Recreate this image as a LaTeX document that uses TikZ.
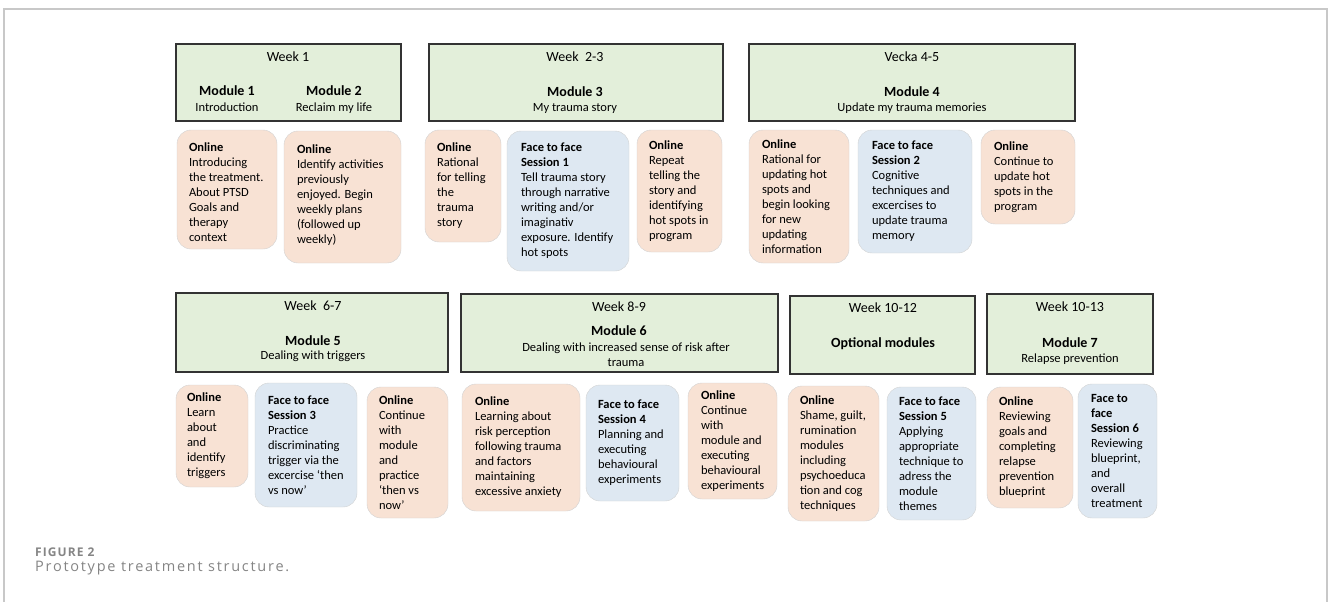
\documentclass[tikz,border=0pt]{standalone}
\usepackage{fontspec}
\setmainfont{Carlito}
\newfontfamily\capfont[LetterSpace=12]{Open Sans}
\newfontfamily\caplblfont[LetterSpace=9]{Open Sans}
\usetikzlibrary{positioning}

\definecolor{weekgreen}{HTML}{E3EFDA}
\definecolor{onlinepeach}{HTML}{F8E2D4}
\definecolor{faceblue}{HTML}{DEE8F2}
\definecolor{boxline}{HTML}{D2D2D2}
\definecolor{frameline}{HTML}{C8C8C8}
\definecolor{capgray}{HTML}{858585}

\tikzset{
  weekbox/.style={draw=black!80,line width=1.3pt,fill=weekgreen,inner sep=0pt},
  onlinebox/.style={draw=boxline,fill=onlinepeach,rounded corners=14pt,inner sep=0pt},
  facebox/.style={draw=boxline,fill=faceblue,rounded corners=14pt,inner sep=0pt},
  boxtext/.style={align=left,inner sep=0pt,font=\fontsize{12.5}{15}\selectfont},
  headtext/.style={inner sep=0pt,font=\fontsize{14}{16}\selectfont},
  modtext/.style={inner sep=0pt,font=\bfseries\fontsize{14}{16}\selectfont},
  subtext/.style={inner sep=0pt,align=center,font=\fontsize{12.5}{15}\selectfont}
}

\begin{document}
\begin{tikzpicture}[x=1pt,y=-1pt]
\useasboundingbox (0,0) rectangle (1328,602);
% frame
\draw[frameline,line width=1.2pt] (4,602) -- (4,9) -- (1327,9) -- (1327,602);

% top row: week headers
\node[weekbox,minimum width=225,minimum height=77] (wk1) at (288.5,82.5) {};
\node[headtext] (wk1h) at (288,57) {Week 1};
\node[modtext] (m1) at (227,91) {Module 1};
\node[subtext] (m1s) at (227,107) {Introduction};
\node[modtext] (m2) at (334,91) {Module 2};
\node[subtext] (m2s) at (334,108) {Reclaim my life};

\node[weekbox,minimum width=294,minimum height=77] (wk23) at (576,82.5) {};
\node[headtext] (wk23h) at (575,57) {Week\ \ 2-3};
\node[modtext] (m3) at (575,92) {Module 3};
\node[subtext] (m3s) at (575,108) {My trauma story};

\node[weekbox,minimum width=326,minimum height=77] (wk45) at (912,82.5) {};
\node[headtext] (wk45h) at (912,57) {Vecka 4-5};
\node[modtext] (m4) at (912,92) {Module 4};
\node[subtext] (m4s) at (912,108) {Update my trauma memories};

% top row: sessions
\node[onlinebox,minimum width=100,minimum height=119] (a1) at (227,189.5) {};
\node[boxtext,right=12pt of a1.west,yshift=-3pt] (a1t) {\textbf{Online}\\Introducing\\the treatment.\\About PTSD\\Goals and\\therapy\\context};
\node[onlinebox,minimum width=117,minimum height=132] (a2) at (342.5,197) {};
\node[boxtext,right=13pt of a2.west,yshift=2pt] (a2t) {\textbf{Online}\\Identify activities\\previously\\enjoyed. Begin\\weekly plans\\(followed up\\weekly)};

\node[onlinebox,minimum width=76,minimum height=112] (b1) at (463,186) {};
\node[boxtext,right=12pt of b1.west] (b1t) {\textbf{Online}\\Rational\\for telling\\the\\trauma\\story};
\node[facebox,minimum width=122,minimum height=140] (b2) at (568,201) {};
\node[boxtext,right=14pt of b2.west] (b2t) {\textbf{Face to face}\\\textbf{Session 1}\\Tell trauma story\\through narrative\\writing and/or\\imaginativ\\exposure. Identify\\hot spots};
\node[onlinebox,minimum width=85,minimum height=122] (b3) at (679.5,191) {};
\node[boxtext,right=12pt of b3.west] (b3t) {\textbf{Online}\\Repeat\\telling the\\story and\\identifying\\hot spots in\\program};

\node[onlinebox,minimum width=100,minimum height=133] (c1) at (799,196.5) {};
\node[boxtext,right=13pt of c1.west] (c1t) {\textbf{Online}\\Rational for\\updating hot\\spots and\\begin looking\\for new\\updating\\information};
\node[facebox,minimum width=114,minimum height=123] (c2) at (915,191.5) {};
\node[boxtext,right=14pt of c2.west] (c2t) {\textbf{Face to face}\\\textbf{Session 2}\\Cognitive\\techniques and\\excercises to\\update trauma\\memory};
\node[onlinebox,minimum width=94,minimum height=94] (c3) at (1028,177) {};
\node[boxtext,right=13pt of c3.west] (c3t) {\textbf{Online}\\Continue to\\update hot\\spots in the\\program};

% bottom row: week headers
\node[weekbox,minimum width=272,minimum height=79] (wk67) at (312,332.5) {};
\node[headtext] (wk67h) at (313,306) {Week\ \ 6-7};
\node[modtext] (m5) at (313,341) {Module 5};
\node[subtext] (m5s) at (313,356) {Dealing with triggers};

\node[weekbox,minimum width=317,minimum height=78] (wk89) at (619.5,333) {};
\node[headtext] (wk89h) at (619,307) {Week 8-9};
\node[modtext] (m6) at (619,331) {Module 6};
\node[subtext] (m6s) at (626,355) {Dealing with increased sense of risk after\\trauma};

\node[weekbox,minimum width=185,minimum height=78] (wk1012) at (882.5,335) {};
\node[headtext] (wk1012h) at (883,308) {Week 10-12};
\node[modtext] (mopt) at (883,344) {Optional modules};

\node[weekbox,minimum width=166,minimum height=80] (wk1013) at (1070,334) {};
\node[headtext] (wk1013h) at (1070,307) {Week 10-13};
\node[modtext] (m7) at (1070,343) {Module 7};
\node[subtext] (m7s) at (1070,359) {Relapse prevention};

% bottom row: sessions
\node[onlinebox,minimum width=72,minimum height=102] (d1) at (212,436) {};
\node[boxtext,right=11pt of d1.west] (d1t) {\textbf{Online}\\Learn\\about\\and\\identify\\triggers};
\node[facebox,minimum width=102,minimum height=124] (d2) at (306,445) {};
\node[boxtext,right=13pt of d2.west] (d2t) {\textbf{Face to face}\\\textbf{Session 3}\\Practice\\discriminating\\trigger via the\\excercise ‘then\\vs now’};
\node[onlinebox,minimum width=81,minimum height=131] (d3) at (407.5,452.5) {};
\node[boxtext,right=12pt of d3.west] (d3t) {\textbf{Online}\\Continue\\with\\module\\and\\practice\\‘then vs\\now’};

\node[onlinebox,minimum width=118,minimum height=127] (e1) at (521,447.5) {};
\node[boxtext,right=13pt of e1.west] (e1t) {\textbf{Online}\\Learning about\\risk perception\\following trauma\\and factors\\maintaining\\excessive anxiety};
\node[facebox,minimum width=93,minimum height=116] (e2) at (632.5,443) {};
\node[boxtext,right=12pt of e2.west] (e2t) {\textbf{Face to face}\\\textbf{Session 4}\\Planning and\\executing\\behavioural\\experiments};
\node[onlinebox,minimum width=89,minimum height=116] (e3) at (732.5,441) {};
\node[boxtext,right=13pt of e3.west] (e3t) {\textbf{Online}\\Continue\\with\\module and\\executing\\behavioural\\experiments};

\node[onlinebox,minimum width=91,minimum height=135] (f1) at (833.5,453.5) {};
\node[boxtext,right=12pt of f1.west] (f1t) {\textbf{Online}\\Shame, guilt,\\rumination\\modules\\including\\psychoeduca\\tion and cog\\techniques};
\node[facebox,minimum width=89,minimum height=133] (f2) at (931.5,453.5) {};
\node[boxtext,right=12pt of f2.west] (f2t) {\textbf{Face to face}\\\textbf{Session 5}\\Applying\\appropriate\\technique to\\adress the\\module\\themes};

\node[onlinebox,minimum width=86,minimum height=121] (g1) at (1030,447.5) {};
\node[boxtext,right=12pt of g1.west] (g1t) {\textbf{Online}\\Reviewing\\goals and\\completing\\relapse\\prevention\\blueprint};
\node[facebox,minimum width=79,minimum height=134] (g2) at (1117.5,451) {};
\node[boxtext,right=13pt of g2.west] (g2t) {\textbf{Face to}\\\textbf{face}\\\textbf{Session 6}\\Reviewing\\blueprint,\\and\\overall\\treatment};

% caption
\node[anchor=west,inner sep=0pt,text=capgray,font=\caplblfont\bfseries\fontsize{12}{14}\selectfont] (figlbl) at (35,552) {FIGURE 2};
\node[anchor=west,inner sep=0pt,text=capgray,font=\capfont\fontsize{14.5}{17}\selectfont] (figcap) at (35,568) {Prototype treatment structure.};
\end{tikzpicture}
\end{document}
